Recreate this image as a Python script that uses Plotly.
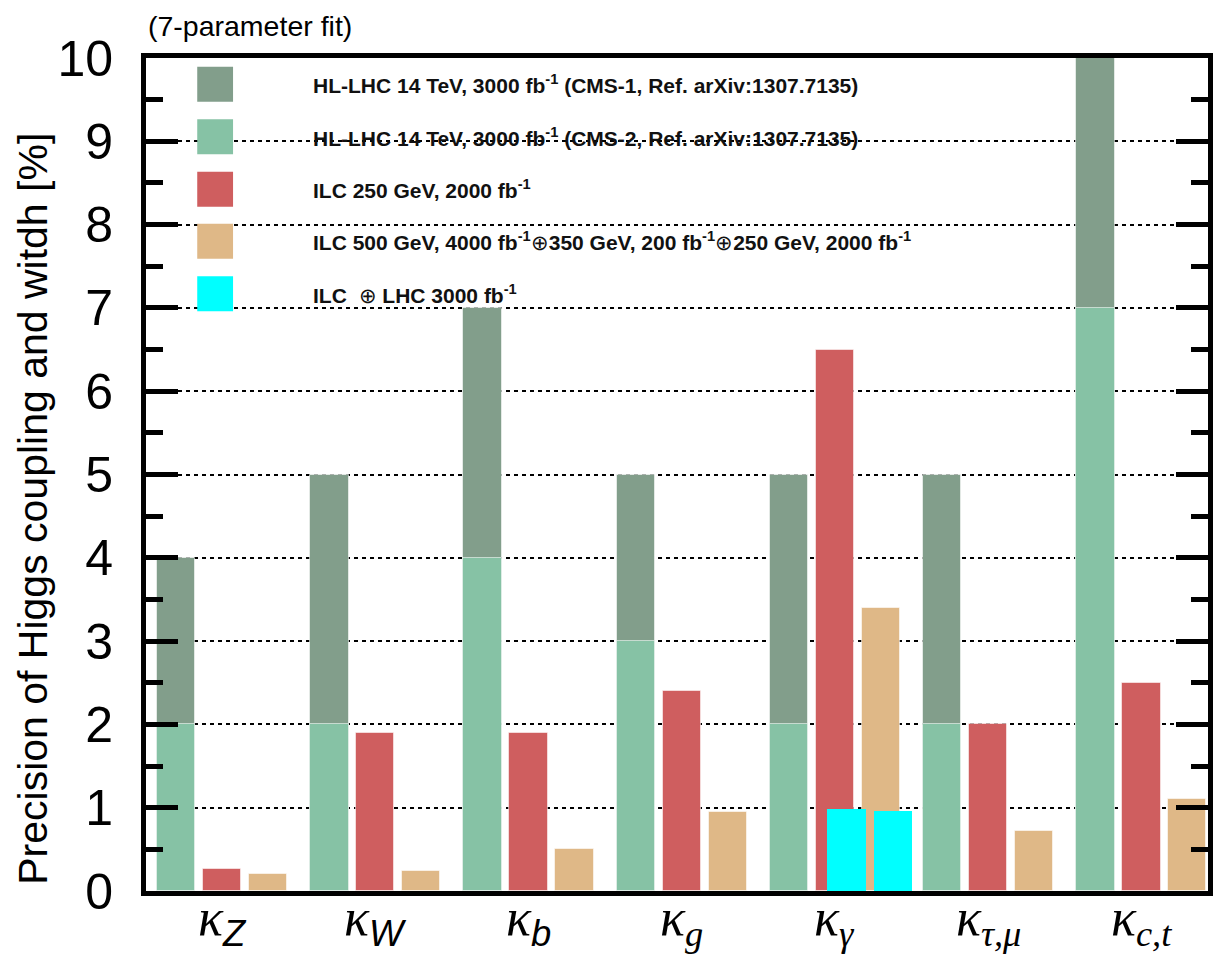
import plotly.graph_objects as go

# Higgs coupling / width precision (%) for each coupling, 7-parameter fit
couplings = ["Z", "W", "b", "g", "γ", "τ,μ", "c,t"]
hl_lhc_cms1 = [4, 5, 7, 5, 5, 5, 10]
hl_lhc_cms2 = [2, 2, 4, 3, 2, 2, 7]
ilc_250 = [0.26, 1.9, 1.9, 2.4, 6.5, 2.0, 2.5]
ilc_500 = [0.2, 0.24, 0.5, 0.95, 3.4, 0.72, 1.1]
# ILC combined with LHC 3000 fb-1, only given for the photon coupling
combo_coupling = 4
ilc_lhc = [0.99, 0.96]

OPLUS = "</b>⊕<b>"
series_names = [
    "HL-LHC 14 TeV, 3000 fb<sup>-1</sup> (CMS-1, Ref. arXiv:1307.7135)",
    "HL-LHC 14 TeV, 3000 fb<sup>-1</sup> (CMS-2, Ref. arXiv:1307.7135)",
    "ILC 250 GeV, 2000 fb<sup>-1</sup>",
    "ILC 500 GeV, 4000 fb<sup>-1</sup>" + OPLUS + "350 GeV, 200 fb<sup>-1</sup>" + OPLUS
    + "250 GeV, 2000 fb<sup>-1</sup>",
    "ILC  " + OPLUS + " LHC 3000 fb<sup>-1</sup>",
]
colors = ["#829E8B", "#86C2A5", "#CF5E5F", "#DFB887", "#00FFFF"]

W, H = 1216, 957
L, R, T, B = 145.5, 1213.0, 58.3, 891.3

BAR_W = 0.25
idx = list(range(len(couplings)))
outline = dict(width=1, color="rgba(255,255,255,0.55)")

fig = go.Figure()
fig.add_trace(go.Bar(x=[i - 0.3 for i in idx], y=hl_lhc_cms1, width=BAR_W,
                     marker=dict(color=colors[0], line=outline), name=series_names[0]))
fig.add_trace(go.Bar(x=[i - 0.3 for i in idx], y=hl_lhc_cms2, width=BAR_W,
                     marker=dict(color=colors[1], line=outline), name=series_names[1]))
fig.add_trace(go.Bar(x=idx, y=ilc_250, width=BAR_W,
                     marker=dict(color=colors[2], line=outline), name=series_names[2]))
fig.add_trace(go.Bar(x=[i + 0.3 for i in idx], y=ilc_500, width=BAR_W,
                     marker=dict(color=colors[3], line=outline), name=series_names[3]))
fig.add_trace(go.Bar(x=[combo_coupling + 0.075, combo_coupling + 0.377], y=ilc_lhc,
                     width=BAR_W, marker=dict(color=colors[4], line=dict(width=0)),
                     name=series_names[4]))


def px_x(px):
    return (px - L) / (R - L)


def px_y(py):
    return (B - py) / (B - T)


shapes = []
annotations = []

# legend: coloured squares with labels
row_tops = [67, 119.5, 172, 224, 276.5]
for k, (name, col) in enumerate(zip(series_names, colors)):
    top = row_tops[k]
    shapes.append(dict(type="rect", xref="paper", yref="paper",
                       x0=px_x(197), x1=px_x(233), y0=px_y(top + 35), y1=px_y(top),
                       fillcolor=col, line=dict(width=0), layer="above"))
    annotations.append(dict(xref="paper", yref="paper", x=px_x(311), y=px_y(top + 17.5),
                            xanchor="left", yanchor="middle", showarrow=False,
                            text="<b>%s</b>" % name,
                            font=dict(family="Liberation Sans", size=21, color="#111111")))

# coupling labels under each group
sans_subs = {"Z", "W", "b"}
for i, c in enumerate(couplings):
    sub_font = "Liberation Sans" if c in sans_subs else "Liberation Serif"
    txt = ("<i>κ</i><sub><span style='font-family:%s'><i>%s</i></span></sub>" % (sub_font, c))
    annotations.append(dict(xref="x", yref="paper", x=i, y=px_y(922), xanchor="center",
                            yanchor="middle", showarrow=False, text=txt,
                            font=dict(family="Liberation Serif", size=52, color="black")))

annotations.append(dict(xref="paper", yref="paper", x=px_x(145), y=px_y(26),
                        xanchor="left", yanchor="middle", showarrow=False,
                        text="(7-parameter fit)",
                        font=dict(family="Liberation Sans", size=28.5, color="black")))
annotations.append(dict(xref="paper", yref="paper", x=px_x(32), y=px_y(509),
                        xanchor="center", yanchor="middle", showarrow=False, textangle=-90,
                        text="Precision of Higgs coupling and witdh [%]",
                        font=dict(family="Liberation Sans", size=41, color="black")))

fig.update_layout(
    width=W, height=H,
    margin=dict(l=L, r=W - R, t=T, b=H - B, pad=0),
    paper_bgcolor="white", plot_bgcolor="white",
    barmode="overlay", bargap=0, showlegend=False,
    shapes=shapes, annotations=annotations,
    xaxis=dict(range=[-0.497, 6.435], showticklabels=False, ticks="", showgrid=False,
               zeroline=False, showline=True, linewidth=5, linecolor="black", mirror=True),
    yaxis=dict(range=[0, 10], dtick=1, tick0=0, ticks="inside", ticklen=32, tickwidth=5,
               tickcolor="black", mirror="ticks", showline=True, linewidth=5,
               linecolor="black", zeroline=False,
               showgrid=True, gridcolor="black", gridwidth=2, griddash="4px,4px",
               tickfont=dict(family="Liberation Sans", size=50, color="black"),
               ticklabelstandoff=18,
               minor=dict(dtick=0.5, ticks="inside", ticklen=17, tickwidth=5,
                          tickcolor="black", showgrid=False)),
)

fig.write_html("out.html")
